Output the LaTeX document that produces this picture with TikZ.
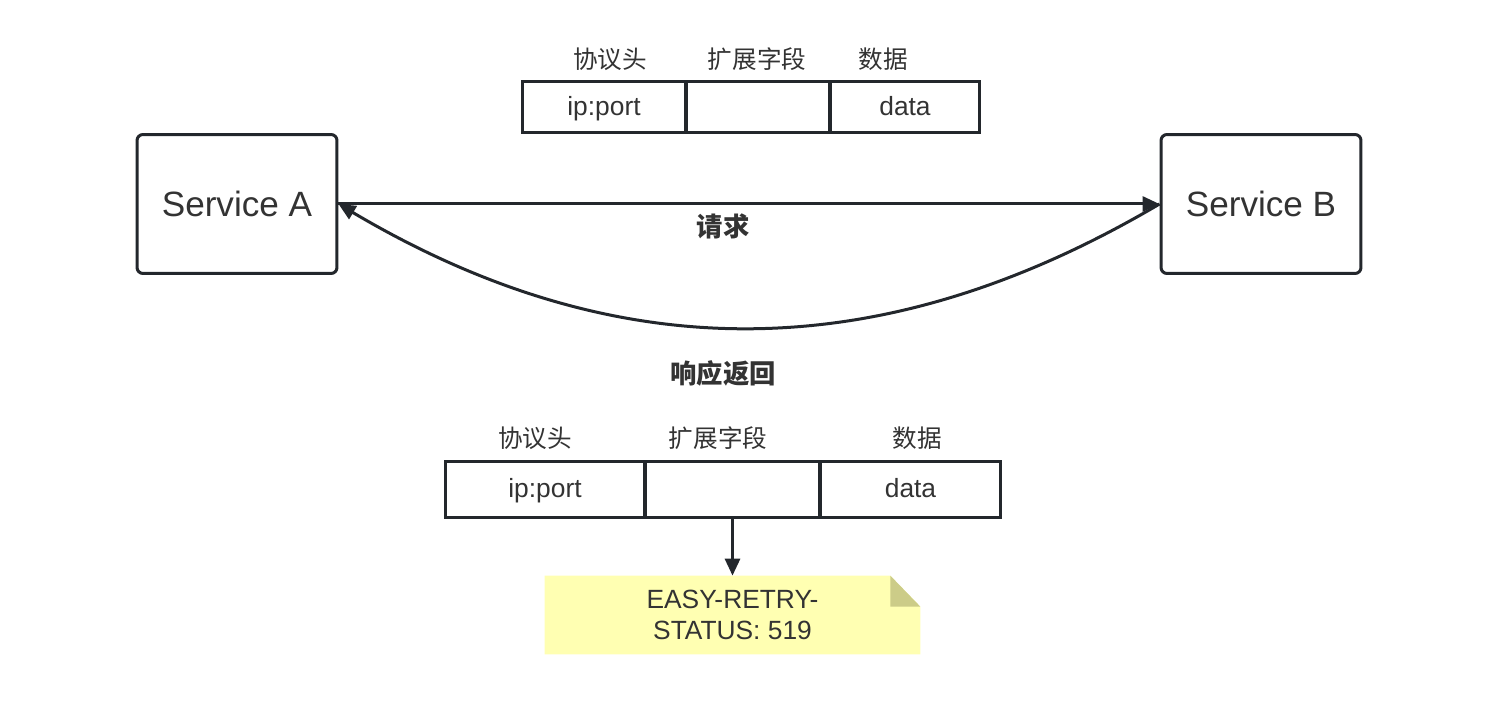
\documentclass[tikz,border=0pt]{standalone}
\usepackage{fontspec}
\setmainfont{Liberation Sans}
\newfontfamily\cjk{Noto Sans CJK SC}
\usetikzlibrary{arrows.meta}
\definecolor{edge}{HTML}{23272C}
\definecolor{ink}{HTML}{333333}
\definecolor{notefill}{HTML}{FFFFB2}
\definecolor{notefold}{HTML}{CCCC88}
\tikzset{
  service/.style={draw=edge, line width=0.06cm, rounded corners=0.12cm, minimum width=4cm, minimum height=2.78cm, font=\fontsize{20}{24}\selectfont, text=ink},
  cell/.style={draw=edge, line width=0.06cm, inner sep=0pt, text height=1em, text depth=0.1em, font=\fontsize{15}{18}\selectfont, text=ink},
  head/.style={font=\cjk\fontsize{14}{17}\selectfont, text=ink},
  flow/.style={draw=edge, line width=0.06cm, -{Triangle[length=0.34cm, width=0.3cm]}},
}
\begin{document}
\begin{tikzpicture}[x=0.02cm, y=-0.02cm]
			%%%%% START %%%%%
			\useasboundingbox (0, 0) rectangle (1494, 722);
			
			\node[service] (srvA) at (237, 204) {Service A};
			\node[service] (srvB) at (1261, 204) {Service B};
			
			% request packet
			\node[cell, minimum width=3.28cm, minimum height=1.02cm] (reqHdr) at (604, 107.5) {ip:port};
			\node[cell, minimum width=2.88cm, minimum height=1.02cm] (reqExt) at (758, 107.5) {};
			\node[cell, minimum width=3cm, minimum height=1.02cm] (reqData) at (905, 107.5) {data};
			\node[head] (reqHdrT) at (610, 59) {协议头};
			\node[head] (reqExtT) at (757, 59) {扩展字段};
			\node[head] (reqDataT) at (883, 59) {数据};
			
			% request / response
			\draw[flow] (srvA.east) -- (srvB.west);
			\node[head, font=\cjk\bfseries\fontsize{15}{18}\selectfont] (reqLbl) at (723, 226) {请求};
			\draw[flow] (srvB.west) .. controls (880, 369) and (617, 369) .. (srvA.east);
			\node[head, font=\cjk\bfseries\fontsize{15}{18}\selectfont] (respLbl) at (723, 373) {响应返回};
			
			% response packet
			\node[cell, minimum width=4cm, minimum height=1.14cm] (respHdr) at (545, 489.5) {ip:port};
			\node[cell, minimum width=3.5cm, minimum height=1.14cm] (respExt) at (732.5, 489.5) {};
			\node[cell, minimum width=3.62cm, minimum height=1.14cm] (respData) at (910.5, 489.5) {data};
			\node[head] (respHdrT) at (535, 438) {协议头};
			\node[head] (respExtT) at (718, 438) {扩展字段};
			\node[head] (respDataT) at (917, 438) {数据};
			
			% note
			\node[minimum width=7.5cm, minimum height=1.56cm, inner sep=0pt] (note) at (732.5, 615) {};
			\fill[notefill] (note.north west) -- ([xshift=-0.6cm]note.north east) -- ([yshift=-0.62cm]note.north east) -- (note.south east) -- (note.south west) -- cycle;
			\fill[notefold] ([xshift=-0.6cm]note.north east) -- ([xshift=-0.6cm, yshift=-0.62cm]note.north east) -- ([yshift=-0.62cm]note.north east) -- cycle;
			\node[align=center, font=\fontsize{15}{18}\selectfont, text=ink] (noteTxt) at (note) {EASY-RETRY-\\STATUS: 519};
			\draw[flow] (respExt.south) -- (note.north);
			%%%%% END %%%%%
\end{tikzpicture}
\end{document}
